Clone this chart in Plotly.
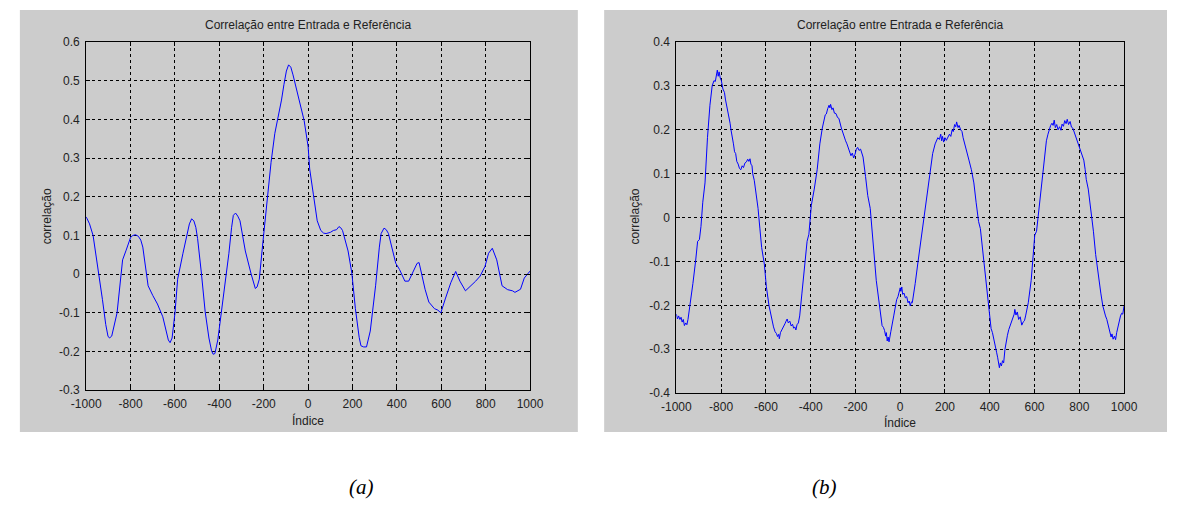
import plotly.graph_objects as go

# ---------------- data ----------------
title_text = "Correlação entre Entrada e Referência"
x_label = "Índice"
y_label = "correlação"

x_ticks = [-1000, -800, -600, -400, -200, 0, 200, 400, 600, 800, 1000]
x_ticktext = ["-1000", "-800", "-600", "-400", "-200", "0", "200", "400", "600", "800", "1000"]

ya_ticks = [-0.3, -0.2, -0.1, 0, 0.1, 0.2, 0.3, 0.4, 0.5, 0.6]
ya_ticktext = ["-0.3", "-0.2", "-0.1", "0", "0.1", "0.2", "0.3", "0.4", "0.5", "0.6"]
yb_ticks = [-0.4, -0.3, -0.2, -0.1, 0, 0.1, 0.2, 0.3, 0.4]
yb_ticktext = ["-0.4", "-0.3", "-0.2", "-0.1", "0", "0.1", "0.2", "0.3", "0.4"]

# panel (a)
xa = [-1000, -985, -969, -950, -927, -912, -902, -895, -885, -861, -836, -820, -800,
      -790, -778, -765, -754, -745, -721, -700, -679, -655, -640, -630, -622, -613,
      -600, -588, -564, -547, -535, -525, -515, -506, -498, -481, -464, -447, -435,
      -428, -420, -407, -382, -357, -345, -337, -327, -317, -307, -291, -283, -258,
      -245, -238, -230, -220, -203, -183, -167, -150, -134, -120, -109, -98, -88,
      -78, -68, -43, -18, 0, 7, 24, 41, 57, 70, 81, 100, 114, 128, 139, 147, 155,
      172, 180, 197, 213, 230, 238, 250, 263, 280, 304, 321, 329, 342, 352, 362,
      370, 395, 412, 425, 436, 453, 469, 491, 500, 507, 527, 544, 569, 585, 598,
      618, 643, 665, 684, 709, 734, 755, 775, 797, 813, 830, 850, 874, 899, 921,
      932, 957, 974, 990, 1000]
ya = [0.148, 0.130, 0.100, 0.030, -0.065, -0.130, -0.160, -0.165, -0.160, -0.100,
      0.037, 0.062, 0.095, 0.100, 0.102, 0.098, 0.088, 0.070, -0.030, -0.055,
      -0.077, -0.110, -0.145, -0.170, -0.177, -0.165, -0.100, -0.013, 0.054, 0.104,
      0.130, 0.143, 0.138, 0.121, 0.092, 0.003, -0.097, -0.165, -0.198, -0.207,
      -0.205, -0.170, -0.064, 0.054, 0.120, 0.152, 0.158, 0.150, 0.138, 0.080,
      0.060, 0.003, -0.025, -0.037, -0.033, -0.013, 0.087, 0.197, 0.289, 0.364,
      0.406, 0.450, 0.490, 0.525, 0.541, 0.535, 0.515, 0.456, 0.397, 0.330, 0.272,
      0.205, 0.138, 0.113, 0.106, 0.105, 0.108, 0.113, 0.115, 0.123, 0.120, 0.113,
      0.080, 0.060, 0.003, -0.089, -0.163, -0.185, -0.188, -0.188, -0.147, -0.030,
      0.070, 0.105, 0.119, 0.115, 0.105, 0.087, 0.028, 0.012, -0.005, -0.018,
      -0.018, 0.003, 0.028, 0.030, 0.012, -0.039, -0.072, -0.089, -0.093, -0.100,
      -0.064, -0.022, 0.007, -0.018, -0.043, -0.030, -0.018, -0.005, 0.020, 0.054,
      0.067, 0.037, -0.030, -0.040, -0.043, -0.047, -0.039, -0.010, 0.003, 0.008]

# panel (b): (index, correlation) pairs
b_points = [
    (-1000, -0.220), (-995, -0.231), (-990, -0.224), (-984, -0.232), (-979, -0.227),
    (-974, -0.238), (-969, -0.232), (-964, -0.246), (-958, -0.240), (-953, -0.244),
    (-948, -0.232), (-942, -0.212), (-934, -0.186), (-926, -0.150), (-914, -0.099),
    (-905, -0.054), (-897, -0.050), (-890, -0.020), (-882, 0.035), (-872, 0.079),
    (-861, 0.182), (-850, 0.256), (-840, 0.300), (-832, 0.312), (-826, 0.310),
    (-821, 0.325), (-817, 0.336), (-813, 0.322), (-809, 0.332), (-804, 0.318),
    (-799, 0.312), (-792, 0.293), (-785, 0.285), (-781, 0.270), (-769, 0.241),
    (-760, 0.215), (-756, 0.200), (-750, 0.185), (-745, 0.168), (-740, 0.150),
    (-735, 0.146), (-730, 0.128), (-724, 0.122), (-718, 0.112), (-712, 0.109),
    (-706, 0.118), (-700, 0.114), (-694, 0.124), (-687, 0.127), (-681, 0.133),
    (-676, 0.128), (-671, 0.134), (-667, 0.122), (-662, 0.118), (-659, 0.100),
    (-652, 0.085), (-646, 0.065), (-635, 0.021), (-627, -0.024), (-619, -0.068),
    (-607, -0.106), (-598, -0.157), (-586, -0.201), (-575, -0.231), (-566, -0.249),
    (-559, -0.260), (-553, -0.264), (-548, -0.271), (-543, -0.266), (-540, -0.276),
    (-535, -0.262), (-529, -0.256), (-522, -0.250), (-515, -0.242), (-510, -0.236),
    (-505, -0.231), (-500, -0.240), (-493, -0.236), (-487, -0.247), (-481, -0.243),
    (-476, -0.252), (-471, -0.249), (-466, -0.256), (-461, -0.244), (-455, -0.240),
    (-449, -0.224), (-439, -0.172), (-429, -0.121), (-416, -0.054), (-408, -0.038),
    (-397, 0.028), (-384, 0.065), (-371, 0.109), (-359, 0.168), (-348, 0.204),
    (-335, 0.234), (-330, 0.236), (-324, 0.248), (-318, 0.256), (-314, 0.250),
    (-311, 0.258), (-305, 0.246), (-300, 0.250), (-294, 0.238), (-287, 0.237),
    (-280, 0.228), (-274, 0.226), (-263, 0.204), (-251, 0.182), (-244, 0.175),
    (-238, 0.168), (-232, 0.158), (-226, 0.149), (-220, 0.141), (-214, 0.147),
    (-208, 0.136), (-202, 0.144), (-196, 0.156), (-190, 0.160), (-184, 0.153),
    (-177, 0.156), (-171, 0.148), (-166, 0.138), (-155, 0.094), (-145, 0.050),
    (-134, 0.021), (-126, -0.038), (-118, -0.076), (-107, -0.143), (-94, -0.201),
    (-81, -0.246), (-75, -0.250), (-70, -0.257), (-65, -0.270), (-62, -0.262),
    (-58, -0.281), (-54, -0.272), (-50, -0.283), (-45, -0.266), (-42, -0.260),
    (-29, -0.224), (-16, -0.187), (-10, -0.180), (-5, -0.172), (0, -0.160),
    (3, -0.168), (7, -0.158), (11, -0.175), (17, -0.172), (23, -0.183),
    (29, -0.180), (35, -0.194), (40, -0.190), (45, -0.201), (50, -0.192),
    (54, -0.194), (60, -0.175), (67, -0.150), (80, -0.099), (92, -0.054),
    (100, -0.031), (113, 0.021), (124, 0.065), (135, 0.109), (145, 0.146),
    (156, 0.168), (168, 0.182), (175, 0.178), (181, 0.190), (185, 0.175),
    (189, 0.185), (194, 0.172), (200, 0.182), (206, 0.176), (213, 0.183),
    (220, 0.190), (226, 0.185), (232, 0.200), (237, 0.196), (243, 0.212),
    (248, 0.207), (252, 0.218), (258, 0.205), (263, 0.210), (270, 0.200),
    (276, 0.196), (281, 0.182), (294, 0.153), (307, 0.131), (318, 0.109),
    (329, 0.079), (339, 0.035), (350, -0.009), (358, -0.025), (371, -0.084),
    (383, -0.143), (393, -0.194), (406, -0.253), (412, -0.262), (419, -0.282),
    (425, -0.290), (431, -0.308), (435, -0.318), (439, -0.330), (443, -0.342),
    (447, -0.331), (452, -0.338), (457, -0.326), (462, -0.331), (468, -0.300),
    (474, -0.280), (479, -0.268), (485, -0.255), (491, -0.246), (497, -0.238),
    (504, -0.231), (509, -0.220), (512, -0.209), (517, -0.222), (523, -0.215),
    (529, -0.232), (536, -0.226), (543, -0.245), (549, -0.238), (555, -0.235),
    (560, -0.224), (566, -0.210), (572, -0.194), (585, -0.143), (594, -0.084),
    (601, -0.040), (609, -0.031), (620, 0.021), (631, 0.072), (642, 0.131),
    (653, 0.175), (660, 0.190), (666, 0.204), (672, 0.210), (678, 0.215),
    (683, 0.210), (688, 0.222), (693, 0.205), (699, 0.212), (705, 0.200),
    (712, 0.207), (718, 0.199), (723, 0.213), (729, 0.208), (735, 0.221),
    (741, 0.214), (746, 0.224), (752, 0.212), (759, 0.219), (765, 0.206),
    (771, 0.204), (777, 0.195), (783, 0.190), (789, 0.180), (795, 0.168),
    (801, 0.160), (807, 0.153), (813, 0.145), (820, 0.131), (826, 0.110),
    (831, 0.087), (840, 0.065), (852, 0.021), (863, -0.031), (873, -0.084),
    (885, -0.136), (896, -0.172), (905, -0.201), (911, -0.215), (917, -0.224),
    (923, -0.232), (928, -0.242), (933, -0.250), (938, -0.260), (942, -0.272),
    (946, -0.265), (951, -0.277), (957, -0.270), (962, -0.278), (967, -0.262),
    (973, -0.249), (979, -0.232), (984, -0.224), (989, -0.218), (994, -0.220),
    (1000, -0.201),
]
xb = [p[0] for p in b_points]
yb = [p[1] for p in b_points]

captions = ["(a)", "(b)"]

# ---------------- figure ----------------
W, H = 1181, 514

def px(x):
    return x / W

def py(y):
    return 1 - y / H

fig = go.Figure()
fig.add_trace(go.Scatter(x=xa, y=ya, mode="lines", line=dict(color="#0000ff", width=1),
                         xaxis="x", yaxis="y", showlegend=False, hoverinfo="skip"))
fig.add_trace(go.Scatter(x=xb, y=yb, mode="lines", line=dict(color="#0000ff", width=1),
                         xaxis="x2", yaxis="y2", showlegend=False, hoverinfo="skip"))

tick_font = dict(family="Liberation Sans, Arial, sans-serif", size=12, color="#222222")
common_axis = dict(showline=True, linecolor="black", linewidth=1, mirror="ticks",
                   ticks="inside", ticklen=4, tickcolor="black",
                   showgrid=True, gridcolor="black", gridwidth=1, griddash="3px,3px",
                   zeroline=False, tickfont=tick_font, fixedrange=True)
x_axis_extra = dict(ticklabelstandoff=2)
y_axis_extra = dict(ticklabelstandoff=3)

fig.update_layout(
    width=W, height=H,
    margin=dict(l=0, r=0, t=0, b=0),
    paper_bgcolor="white", plot_bgcolor="white",
    hovermode=False,
    xaxis=dict(domain=[px(73), px(528)], range=[-1000, 1000], tickvals=x_ticks,
               ticktext=x_ticktext, anchor="y", **common_axis, **x_axis_extra),
    yaxis=dict(domain=[py(394), py(36)], range=[-0.3, 0.6], tickvals=ya_ticks,
               ticktext=ya_ticktext, anchor="x", **common_axis, **y_axis_extra),
    xaxis2=dict(domain=[px(678), px(1137)], range=[-1000, 1000], tickvals=x_ticks,
                ticktext=x_ticktext, anchor="y2", **common_axis, **x_axis_extra),
    yaxis2=dict(domain=[py(397), py(36)], range=[-0.4, 0.4], tickvals=yb_ticks,
                ticktext=yb_ticktext, anchor="x2", **common_axis, **y_axis_extra),
)

# grey MATLAB-like figure backgrounds
for (x0, x1) in [(5, 577), (604, 1181)]:
    fig.add_shape(type="rect", xref="paper", yref="paper",
                  x0=px(x0), x1=px(x1), y0=py(437), y1=py(3),
                  fillcolor="#cccccc", line=dict(width=0), layer="below")

label_font = dict(family="Liberation Sans, Arial, sans-serif", size=12, color="#222222")
anns = []
for cx, ylab_x, xlab_y in [((73 + 528) / 2, 33, 425), ((678 + 1137) / 2, 636, 427)]:
    anns.append(dict(text=title_text, x=px(cx), y=py(19), xref="paper", yref="paper",
                     showarrow=False, font=label_font, xanchor="center", yanchor="middle"))
    anns.append(dict(text=x_label, x=px(cx), y=py(xlab_y), xref="paper", yref="paper",
                     showarrow=False, font=label_font, xanchor="center", yanchor="middle"))
    anns.append(dict(text=y_label, x=px(ylab_x), y=py(215), xref="paper", yref="paper",
                     showarrow=False, font=label_font, textangle=-90,
                     xanchor="center", yanchor="middle"))
for cap, cx in zip(captions, [355, 830]):
    anns.append(dict(text="<i>" + cap + "</i>", x=px(cx), y=py(493), xref="paper", yref="paper",
                     showarrow=False,
                     font=dict(family="Liberation Serif, Times New Roman, serif", size=21,
                               color="black"),
                     xanchor="center", yanchor="middle"))
fig.update_layout(annotations=anns)

# make the page exactly the figure size (no default body margin), no toolbar
fig.write_html("out.html", config={"displayModeBar": False, "staticPlot": True},
               post_script="document.body.style.margin='0px';")
